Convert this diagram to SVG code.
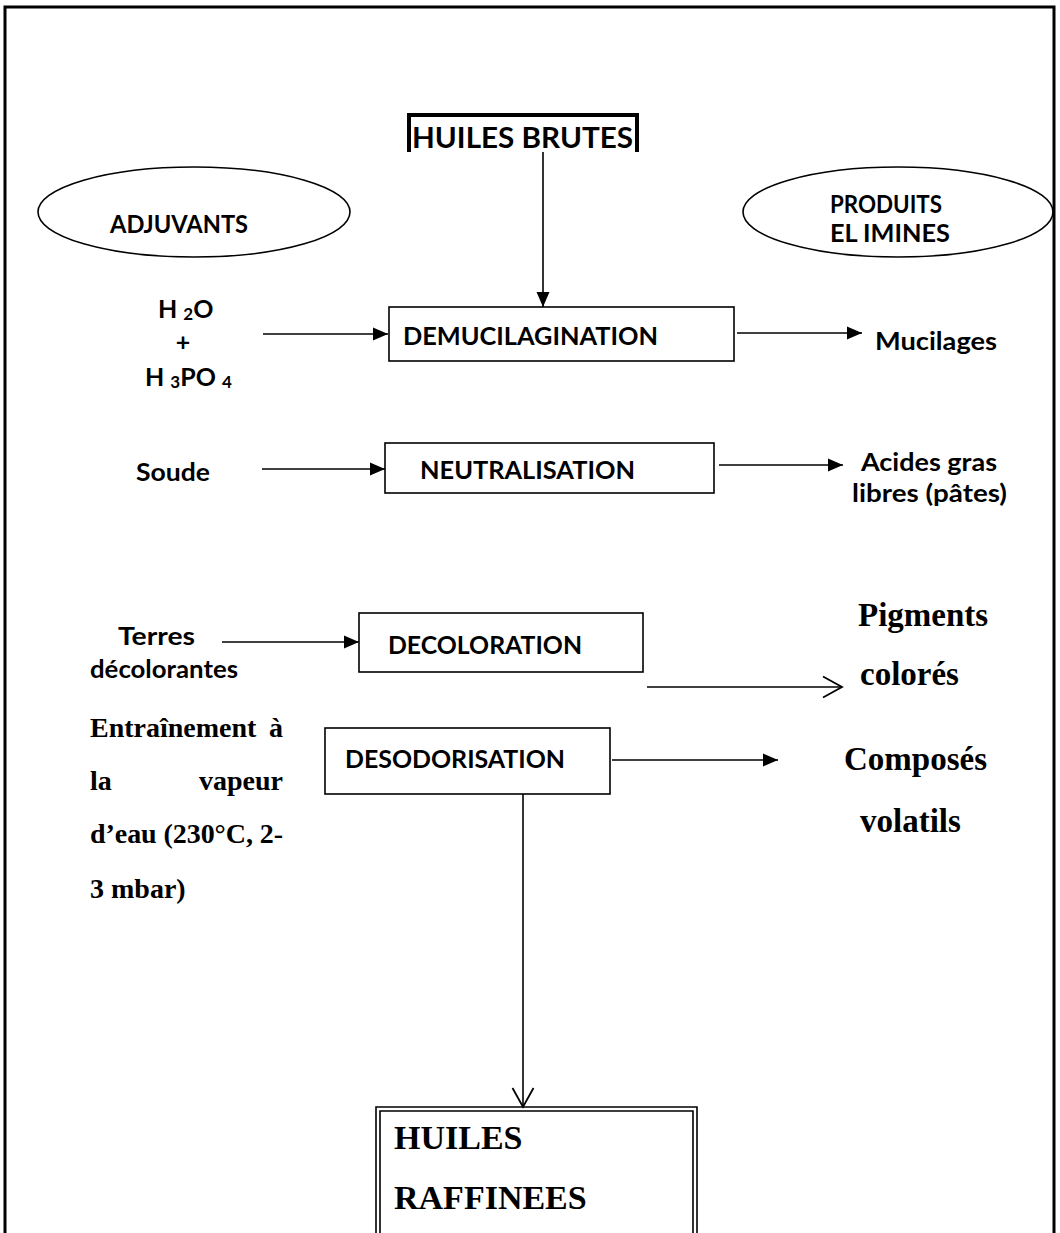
<svg xmlns="http://www.w3.org/2000/svg" width="1060" height="1233" viewBox="0 0 1060 1233">
  <defs>
    <style>
      .sans { font-family: Lato, "Liberation Sans", sans-serif; font-weight: bold; fill: #000; }
      .serif { font-family: "Liberation Serif", serif; font-weight: bold; fill: #000; }
      .box { fill: #fff; stroke: #000; stroke-width: 1.6; }
      .wire { fill: none; stroke: #000; stroke-width: 1.6; }
      .frame { fill: none; stroke: #000; stroke-width: 3; }
    </style>
    <marker id="solid" markerUnits="userSpaceOnUse" markerWidth="16" markerHeight="14" refX="15" refY="7" orient="auto">
      <path d="M0,0.5 L15,7 L0,13.5 z" fill="#000"/>
    </marker>
    <marker id="open" markerUnits="userSpaceOnUse" markerWidth="22" markerHeight="24" refX="20" refY="12" orient="auto">
      <path d="M1,1.5 L20,12 L1,22.5" fill="none" stroke="#000" stroke-width="1.8"/>
    </marker>
  </defs>

  <rect width="1060" height="1233" fill="#fff"/>

  <!-- page frame (open at the bottom) -->
  <path class="frame" d="M5,1233 V7 H1054 V1233"/>

  <!-- connectors -->
  <g id="connectors">
    <line class="wire" x1="543" y1="152" x2="543" y2="307" marker-end="url(#solid)"/>
    <line class="wire" x1="263" y1="334" x2="388" y2="334" marker-end="url(#solid)"/>
    <line class="wire" x1="737" y1="333" x2="862" y2="333" marker-end="url(#solid)"/>
    <line class="wire" x1="262" y1="469" x2="385" y2="469" marker-end="url(#solid)"/>
    <line class="wire" x1="719" y1="465" x2="843" y2="465" marker-end="url(#solid)"/>
    <line class="wire" x1="222" y1="642" x2="359" y2="642" marker-end="url(#solid)"/>
    <line class="wire" x1="647" y1="687" x2="842" y2="687" marker-end="url(#open)"/>
    <line class="wire" x1="612" y1="760" x2="778" y2="760" marker-end="url(#solid)"/>
    <line class="wire" x1="523" y1="794" x2="523" y2="1107" marker-end="url(#open)"/>
  </g>

  <!-- crude oil input -->
  <g id="huiles-brutes">
    <path d="M409,152 V115 H637 V152" fill="none" stroke="#000" stroke-width="4"/>
    <text class="sans" x="412" y="148" font-size="28" textLength="221" lengthAdjust="spacingAndGlyphs">HUILES BRUTES</text>
  </g>

  <!-- column headers -->
  <g id="adjuvants">
    <ellipse cx="194" cy="212" rx="156" ry="45" fill="none" stroke="#000" stroke-width="1.6"/>
    <text class="sans" x="110" y="233" font-size="25" textLength="138" lengthAdjust="spacingAndGlyphs">ADJUVANTS</text>
  </g>
  <g id="produits-elimines">
    <ellipse cx="898" cy="212" rx="155" ry="45" fill="none" stroke="#000" stroke-width="1.6"/>
    <text class="sans" x="830" y="213" font-size="24" textLength="112" lengthAdjust="spacingAndGlyphs">PRODUITS</text>
    <text class="sans" x="830" y="242" font-size="25" textLength="120" lengthAdjust="spacingAndGlyphs">EL IMINES</text>
  </g>

  <!-- step 1 -->
  <g id="eau-acide">
    <text class="sans" x="158" y="318" font-size="25">H <tspan font-size="17" dy="2">2</tspan><tspan dy="-2">O</tspan></text>
    <text class="sans" x="183" y="351" font-size="25" text-anchor="middle">+</text>
    <text class="sans" x="145" y="386" font-size="25">H <tspan font-size="17" dy="2">3</tspan><tspan dy="-2">PO </tspan><tspan font-size="17" dy="2">4</tspan></text>
  </g>
  <g id="demucilagination">
    <rect class="box" x="389" y="307" width="345" height="54"/>
    <text class="sans" x="403" y="345" font-size="25" textLength="255" lengthAdjust="spacingAndGlyphs">DEMUCILAGINATION</text>
  </g>
  <g id="mucilages">
    <text class="sans" x="875" y="350" font-size="25" textLength="122" lengthAdjust="spacingAndGlyphs">Mucilages</text>
  </g>

  <!-- step 2 -->
  <g id="soude">
    <text class="sans" x="136" y="481" font-size="25" textLength="74" lengthAdjust="spacingAndGlyphs">Soude</text>
  </g>
  <g id="neutralisation">
    <rect class="box" x="385" y="443" width="329" height="50"/>
    <text class="sans" x="420" y="479" font-size="25" textLength="215" lengthAdjust="spacingAndGlyphs">NEUTRALISATION</text>
  </g>
  <g id="acides-gras">
    <text class="sans" x="861" y="471" font-size="25" textLength="136" lengthAdjust="spacingAndGlyphs">Acides gras</text>
    <text class="sans" x="852" y="502" font-size="25" textLength="155" lengthAdjust="spacingAndGlyphs">libres (pâtes)</text>
  </g>

  <!-- step 3 -->
  <g id="terres">
    <text class="sans" x="118" y="645" font-size="25" textLength="77" lengthAdjust="spacingAndGlyphs">Terres</text>
    <text class="sans" x="90" y="678" font-size="25" textLength="148" lengthAdjust="spacingAndGlyphs">décolorantes</text>
  </g>
  <g id="decoloration">
    <rect class="box" x="359" y="613" width="284" height="59"/>
    <text class="sans" x="388" y="654" font-size="25" textLength="194" lengthAdjust="spacingAndGlyphs">DECOLORATION</text>
  </g>
  <g id="pigments">
    <text class="serif" x="858" y="626" font-size="33">Pigments</text>
    <text class="serif" x="860" y="685" font-size="33">colorés</text>
  </g>

  <!-- step 4 -->
  <g id="vapeur">
    <text class="serif" x="90" y="737" font-size="28">Entraînement</text>
    <text class="serif" x="283" y="737" font-size="28" text-anchor="end">à</text>
    <text class="serif" x="90" y="790" font-size="28">la</text>
    <text class="serif" x="283" y="790" font-size="28" text-anchor="end">vapeur</text>
    <text class="serif" x="90" y="843" font-size="28" textLength="193" lengthAdjust="spacing">d’eau (230°C, 2-</text>
    <text class="serif" x="90" y="898" font-size="28">3 mbar)</text>
  </g>
  <g id="desodorisation">
    <rect class="box" x="325" y="728" width="285" height="66"/>
    <text class="sans" x="345" y="768" font-size="25" textLength="220" lengthAdjust="spacingAndGlyphs">DESODORISATION</text>
  </g>
  <g id="composes-volatils">
    <text class="serif" x="844" y="770" font-size="33">Composés</text>
    <text class="serif" x="860" y="832" font-size="33">volatils</text>
  </g>

  <!-- refined oil output -->
  <g id="huiles-raffinees">
    <path d="M376,1233 V1107 H697 V1233" fill="none" stroke="#000" stroke-width="1.6"/>
    <path d="M380,1233 V1111 H693 V1233" fill="none" stroke="#000" stroke-width="1.6"/>
    <text class="serif" x="394" y="1149" font-size="34">HUILES</text>
    <text class="serif" x="394" y="1209" font-size="34">RAFFINEES</text>
  </g>
</svg>
